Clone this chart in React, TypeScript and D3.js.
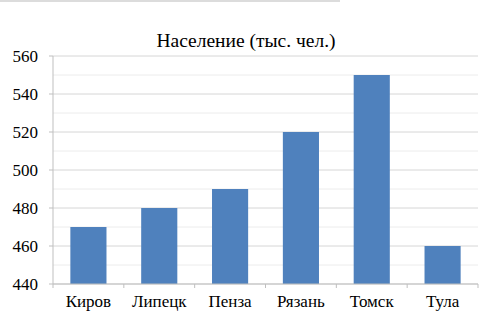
import React from "react";
import * as d3 from "d3";

const categories = ["Киров", "Липецк", "Пенза", "Рязань", "Томск", "Тула"];
const values = [470, 480, 490, 520, 550, 460];
const majorTicks = [440, 460, 480, 500, 520, 540, 560];
const minorTicks = [450, 470, 490, 510, 530, 550];
const title = "Население (тыс. чел.)";

export default function App() {
  const W = 493, H = 333;
  const left = 53, right = 478, top = 56, bottom = 284;
  const x = d3.scaleBand<string>().domain(categories).range([left, right]).paddingInner(0.49).paddingOuter(0.245);
  const y = d3.scaleLinear().domain([440, 560]).range([bottom, top]);
  const step = (right - left) / categories.length;
  const font = "Liberation Serif, DejaVu Serif, serif";
  return (
    <svg width={W} height={H} style={{ position: "absolute", left: 0, top: 0 }}>
      <rect width={W} height={H} fill="#fff" />
      <line x1={0} x2={340} y1={1} y2={1} stroke="#d0d0d0" strokeWidth={1.5} />
      <text x={246} y={47} textAnchor="middle" fontFamily={font} fontSize={19.5} fill="#000">{title}</text>
      {minorTicks.map((t) => (
        <line key={"m" + t} x1={left} x2={right} y1={y(t)} y2={y(t)} stroke="#ececec" strokeWidth={1} />
      ))}
      {majorTicks.map((t) => (
        <g key={t}>
          <line x1={left} x2={right} y1={y(t)} y2={y(t)} stroke="#d6d6d6" strokeWidth={1} />
          <line x1={left - 4} x2={left} y1={y(t)} y2={y(t)} stroke="#bfbfbf" strokeWidth={1} />
          <text x={38} y={y(t) + 6} textAnchor="end" fontFamily={font} fontSize={17} fill="#000">{t}</text>
        </g>
      ))}
      {categories.map((c, i) => (
        <rect key={c} x={x(c)} y={y(values[i])} width={x.bandwidth()} height={bottom - y(values[i])} fill="#4F81BD" />
      ))}
      <line x1={left} x2={left} y1={top} y2={bottom} stroke="#bfbfbf" strokeWidth={1} />
      <line x1={left} x2={right} y1={bottom} y2={bottom} stroke="#bfbfbf" strokeWidth={1} />
      {d3.range(categories.length + 1).map((i) => (
        <line key={"t" + i} x1={left + i * step} x2={left + i * step} y1={bottom} y2={bottom + 4} stroke="#bfbfbf" strokeWidth={1} />
      ))}
      {categories.map((c) => (
        <text key={"l" + c} x={(x(c) as number) + x.bandwidth() / 2} y={307} textAnchor="middle" fontFamily={font} fontSize={17} fill="#000">{c}</text>
      ))}
    </svg>
  );
}
